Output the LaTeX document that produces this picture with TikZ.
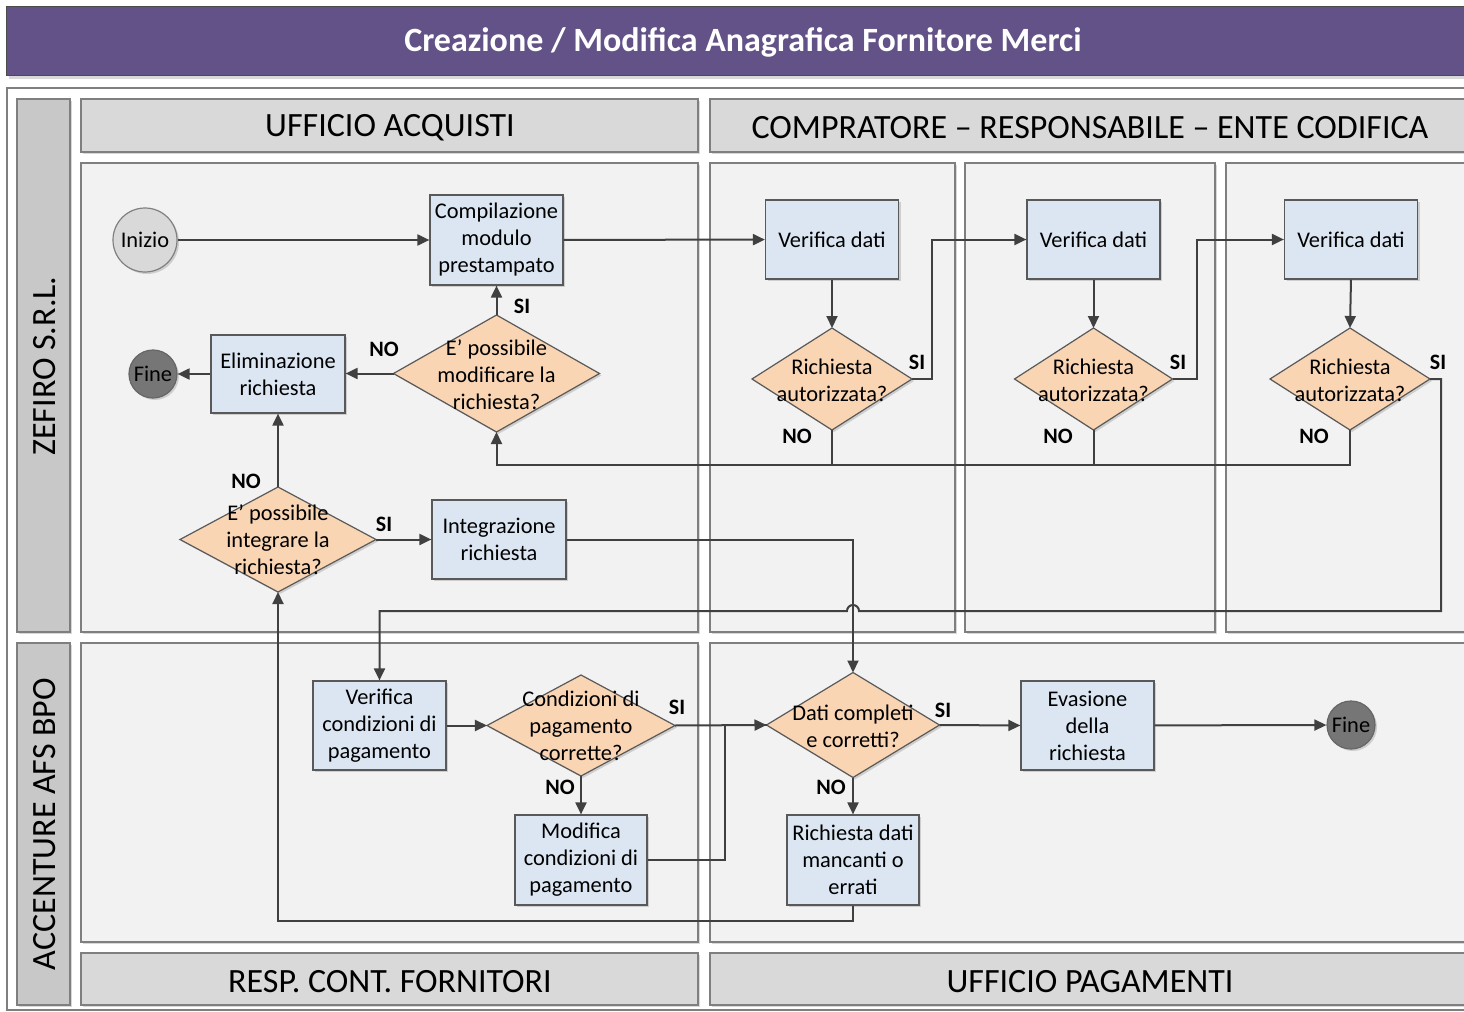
\documentclass[tikz,border=0pt]{standalone}
\usepackage{fontspec}
\setmainfont{Carlito}
\usetikzlibrary{arrows.meta,shapes.geometric,shadows,calc}

\definecolor{titlebg}{HTML}{635287}
\definecolor{lanebg}{HTML}{C8C8C8}
\definecolor{headbg}{HTML}{D9D9D9}
\definecolor{cellbg}{HTML}{F2F2F2}
\definecolor{framecol}{HTML}{7F7F7F}
\definecolor{procbg}{HTML}{DCE6F2}
\definecolor{decbg}{HTML}{F9D5B4}
\definecolor{linecol}{HTML}{404040}
\definecolor{startbg}{HTML}{D9D9D9}
\definecolor{endbg}{HTML}{767676}

\tikzset{
  x=0.5pt, y=-0.5pt,
  softshadow/.style={drop shadow={shadow xshift=1pt, shadow yshift=-1pt, opacity=0.25, fill=black!60}},
  lanebox/.style={draw=framecol, line width=0.6pt, fill=lanebg, softshadow},
  headbox/.style={draw=framecol, line width=0.6pt, fill=headbg, softshadow},
  cellbox/.style={draw=framecol, line width=0.6pt, fill=cellbg, softshadow},
  headtext/.style={font=\fontsize{17}{20}\selectfont, text=black},
  proc/.style={rectangle, draw=black!65, line width=0.6pt, fill=procbg, softshadow,
    align=center, inner sep=1pt, font=\fontsize{11.2}{13.5}\selectfont, text=black},
  dec/.style={diamond, draw=black!65, line width=0.6pt, fill=decbg, softshadow,
    inner sep=0pt, outer sep=0pt},
  dectext/.style={align=center, font=\fontsize{11.2}{13.5}\selectfont, text=black},
  startnode/.style={circle, draw=black!50, line width=0.6pt, fill=startbg, softshadow,
    inner sep=0pt, minimum size=32pt, font=\fontsize{11.2}{13}\selectfont},
  endnode/.style={circle, draw=black!60, line width=0.6pt, fill=endbg, softshadow,
    inner sep=0pt, minimum size=24pt, font=\fontsize{11.2}{13}\selectfont},
  conn/.style={draw=linecol, line width=1pt, -{Triangle[length=6pt,width=5.5pt]}},
  plain/.style={draw=linecol, line width=1pt},
  answer/.style={font=\bfseries\fontsize{11}{13}\selectfont, text=black},
}

\begin{document}
\begin{tikzpicture}
\useasboundingbox (0,0) rectangle (1464,1012);
\fill[white] (0,0) rectangle (1464,1012);

% title bar
\fill[black!15] (9,9) rectangle (1470,79);
\node[draw=black!70, line width=0.6pt, fill=titlebg, minimum width=732pt, minimum height=34.5pt,
  inner sep=0pt, anchor=north west] (titlebar) at (6,6) {};
\node[text=white, font=\bfseries\fontsize{17}{20}\selectfont] (title) at (743,42)
  {Creazione / Modifica Anagrafica Fornitore Merci};

% outer frame
\draw[framecol, line width=0.6pt, fill=white] (7,88) rectangle (1470,1010);

% pools (vertical labels)
\draw[lanebox] (17,99) rectangle (70,632);
\draw[lanebox] (17,643) rectangle (70,1005);
\node[headtext, rotate=90] (poolA) at (45,366) {ZEFIRO S.R.L.};
\node[headtext, rotate=90] (poolB) at (45,824) {ACCENTURE AFS BPO};

% lane headers
\draw[headbox] (81,99) rectangle (698,152);
\draw[headbox] (710,99) rectangle (1470,152);
\draw[headbox] (81,953) rectangle (698,1005);
\draw[headbox] (710,953) rectangle (1470,1005);
\node[headtext] (hA) at (390,128) {UFFICIO ACQUISTI};
\node[headtext] (hB) at (1090,128) {COMPRATORE – RESPONSABILE – ENTE CODIFICA};
\node[headtext] (hC) at (390,982) {RESP. CONT. FORNITORI};
\node[headtext] (hD) at (1090,982) {UFFICIO PAGAMENTI};

% cells
\draw[cellbox] (81,163) rectangle (698,632);
\draw[cellbox] (710,163) rectangle (955,632);
\draw[cellbox] (965,163) rectangle (1215,632);
\draw[cellbox] (1226,163) rectangle (1470,632);
\draw[cellbox] (81,643) rectangle (698,942);
\draw[cellbox] (710,643) rectangle (1470,942);

% nodes: upper pool
\node[startnode] (inizio) at (145,240) {Inizio};
\node[proc, minimum width=66.5pt, minimum height=45pt] (comp) at (496.5,240)
  {Compilazione\\modulo\\prestampato};
\node[proc, minimum width=66.5pt, minimum height=39.5pt] (ver1) at (832,239.5) {Verifica dati};
\node[proc, minimum width=66.5pt, minimum height=39.5pt] (ver2) at (1093.5,239.5) {Verifica dati};
\node[proc, minimum width=66.5pt, minimum height=39.5pt] (ver3) at (1351,239.5) {Verifica dati};

\node[dec, minimum width=80pt, minimum height=51pt] (d1) at (832,379) {};
\node[dectext] (d1t) at (832,380) {Richiesta\\autorizzata?};
\node[dec, minimum width=79pt, minimum height=51pt] (d2) at (1093.5,379) {};
\node[dectext] (d2t) at (1093.5,380) {Richiesta\\autorizzata?};
\node[dec, minimum width=80pt, minimum height=51pt] (d3) at (1350,379) {};
\node[dectext] (d3t) at (1350,380) {Richiesta\\autorizzata?};

\node[dec, minimum width=103pt, minimum height=58.5pt] (dmod) at (496.5,373.5) {};
\node[dectext] (dmodt) at (496.5,374.5) {E’ possibile\\modificare la\\richiesta?};
\node[proc, minimum width=67pt, minimum height=39pt] (elim) at (278,374) {Eliminazione\\richiesta};
\node[endnode] (fine1) at (153,374) {Fine};

\node[dec, minimum width=98pt, minimum height=52.5pt] (dint) at (278,539.5) {};
\node[dectext] (dintt) at (278,540) {E’ possibile\\integrare la\\richiesta?};
\node[proc, minimum width=67pt, minimum height=39.5pt] (integ) at (499,539.5) {Integrazione\\richiesta};

% nodes: lower pool
\node[proc, minimum width=66.5pt, minimum height=44.5pt] (vercond) at (379.5,725.5)
  {Verifica\\condizioni di\\pagamento};
\node[dec, minimum width=94pt, minimum height=50.5pt] (dcond) at (581,725.5) {};
\node[dectext] (dcondt) at (581,726) {Condizioni di\\pagamento\\corrette?};
\node[proc, minimum width=66pt, minimum height=45pt] (modcond) at (581,860)
  {Modifica\\condizioni di\\pagamento};
\node[dec, minimum width=86.5pt, minimum height=52.5pt] (ddati) at (853,725) {};
\node[dectext] (ddatit) at (853,726) {Dati completi\\e corretti?};
\node[proc, minimum width=66pt, minimum height=45pt] (richdati) at (853,860)
  {Richiesta dati\\mancanti o\\errati};
\node[proc, minimum width=66.5pt, minimum height=44.5pt] (evas) at (1087.5,725.5)
  {Evasione\\della\\richiesta};
\node[endnode] (fine2) at (1351,725) {Fine};

% connectors
\draw[conn] (inizio) -- (comp);
\draw[conn] (comp) -- (ver1);
\draw[conn] (ver1.south) -- (d1.north);
\draw[conn] (ver2.south) -- (d2.north);
\draw[conn] (ver3.south) -- (d3.north);
\draw[conn] (d1.east) -- ++(20,0) |- (ver2.west);
\draw[conn] (d2.east) -- ++(24,0) |- (ver3.west);

% rejection path back to the modification check
\draw[plain] (d1.south) -- ++(0,35);
\draw[plain] (d2.south) -- ++(0,35);
\draw[conn] (d3.south) -- ++(0,35) -| (dmod.south);

\draw[conn] (dmod.north) -- (comp.south);
\draw[conn] (dmod.west) -- (dmod.west -| elim.east);
\draw[conn] (elim) -- (fine1);
\draw[conn] (dint.north) -- (elim.south);
\draw[conn] (dint.east) -- (integ.west);
\draw[conn] (integ.east) -| (ddati.north);

% approved path down to the payment check, hopping over the vertical line
\coordinate (hop) at (ddati.north |- 0,611);
\draw[conn] (d3.east) -- ++(11,0) |- ([xshift=3pt]hop)
  arc[start angle=0, end angle=-180, radius=6] -| (vercond.north);

\draw[conn] (vercond) -- (dcond);
\draw[conn] (dcond.east) -- (ddati.west);
\draw[conn] (dcond.south) -- (modcond.north);
\draw[plain] (modcond.east) -- ++(77,0) |- (ddati.west);
\draw[conn] (ddati.east) -- (evas.west);
\draw[conn] (ddati.south) -- (richdati.north);
\draw[conn] (richdati.south) -- ++(0,15) -| (dint.south);
\draw[conn] (evas) -- (fine2);

% answer labels
\node[answer] (a1) at (522,306) {SI};
\node[answer] (a2) at (384,349) {NO};
\node[answer] (a3) at (917,362) {SI};
\node[answer] (a4) at (797,436) {NO};
\node[answer] (a5) at (1178,362) {SI};
\node[answer] (a6) at (1058,436) {NO};
\node[answer] (a7) at (1438,362) {SI};
\node[answer] (a8) at (1314,436) {NO};
\node[answer] (a9) at (246,481) {NO};
\node[answer] (a10) at (384,524) {SI};
\node[answer] (a11) at (677,707) {SI};
\node[answer] (a12) at (560,787) {NO};
\node[answer] (a13) at (943,710) {SI};
\node[answer] (a14) at (831,787) {NO};
\end{tikzpicture}
\end{document}
